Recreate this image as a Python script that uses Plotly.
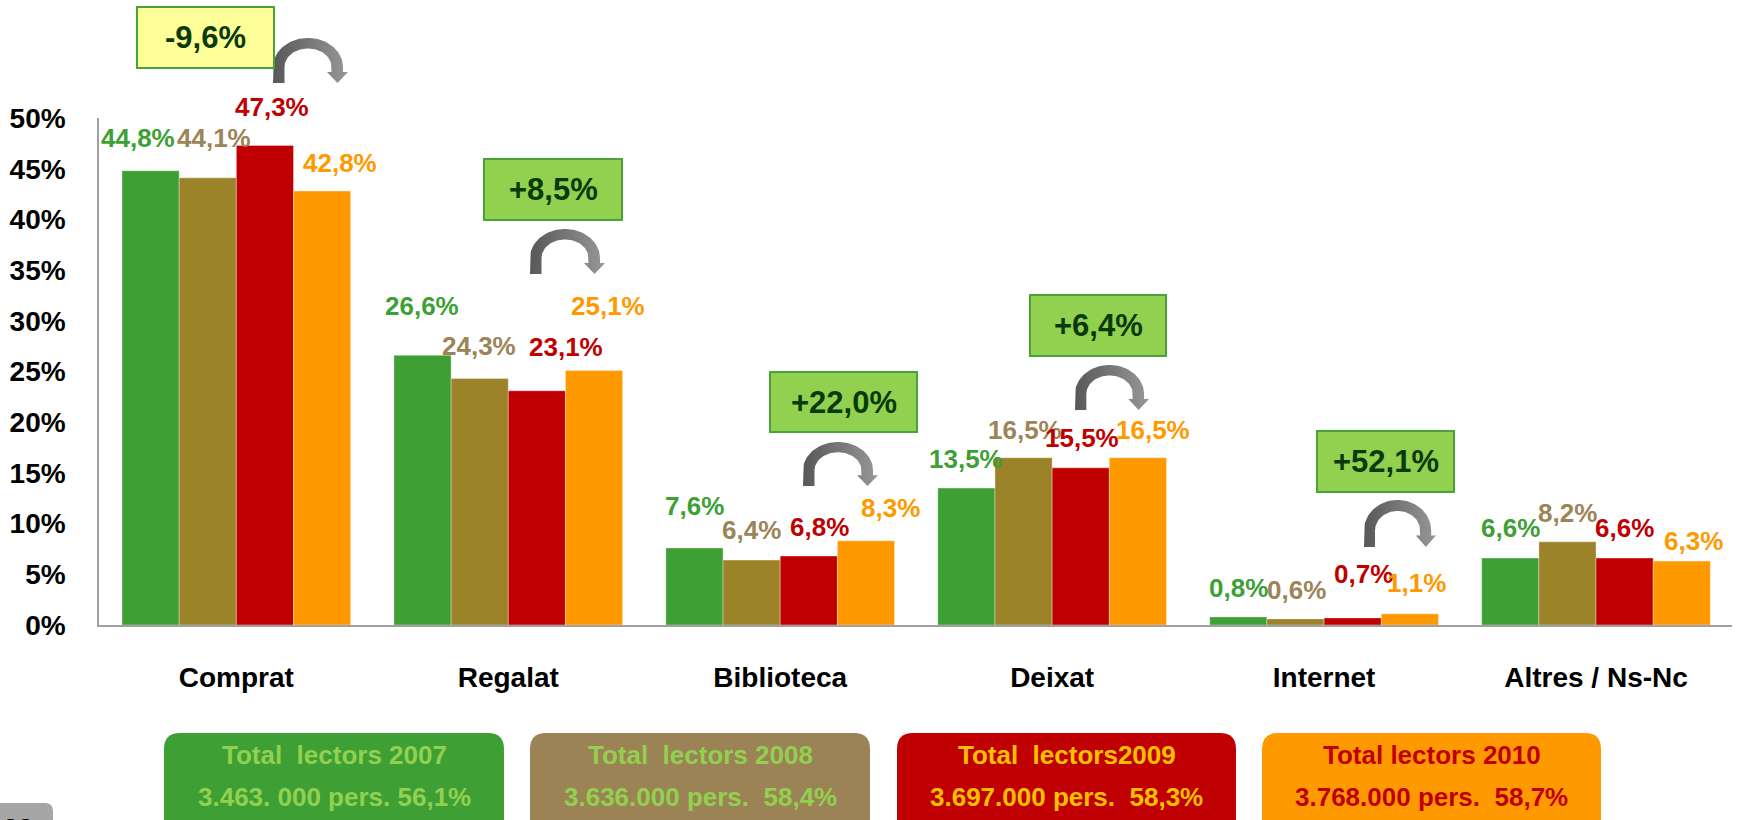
import plotly.graph_objects as go
import numpy as np

W, H = 1740, 820

# ---------------- data ----------------
categories = ["Comprat", "Regalat", "Biblioteca", "Deixat", "Internet", "Altres / Ns-Nc"]
years = ["2007", "2008", "2009", "2010"]
v2007 = [44.8, 26.6, 7.6, 13.5, 0.8, 6.6]
v2008 = [44.1, 24.3, 6.4, 16.5, 0.6, 8.2]
v2009 = [47.3, 23.1, 6.8, 15.5, 0.7, 6.6]
v2010 = [42.8, 25.1, 8.3, 16.5, 1.1, 6.3]
change_labels = ["-9,6%", "+8,5%", "+22,0%", "+6,4%", "+52,1%"]
ytick_vals = [0, 5, 10, 15, 20, 25, 30, 35, 40, 45, 50]
ytick_text = ["0%", "5%", "10%", "15%", "20%", "25%", "30%", "35%", "40%", "45%", "50%"]
legend_line1 = ["Total\u00a0\u00a0lectors 2007", "Total\u00a0\u00a0lectors 2008",
                "Total\u00a0\u00a0lectors2009", "Total lectors 2010"]
legend_line2 = ["3.463. 000 pers. 56,1%", "3.636.000 pers.\u00a0\u00a058,4%",
                "3.697.000 pers.\u00a0\u00a058,3%", "3.768.000 pers.\u00a0\u00a058,7%"]
slide_number = "22"

# ---------------- styles / positions ----------------
FONT = "Liberation Sans Narrow, Arial Narrow, Liberation Sans, Arial, sans-serif"
bar_colors = ["#3E9F35", "#9C8229", "#C00000", "#FF9900"]
label_colors = ["#3E9F35", "#9C8456", "#C00000", "#FF9900"]
legend_fill = ["#3E9F35", "#9C8356", "#C00000", "#FF9900"]
legend_text = ["#92D050", "#92D050", "#FFC000", "#C00000"]

# label offsets (px) relative to top-centre of each bar
lab_dx = [[-12.5, -0.6, -0.3, 0, 0, 0],
          [6, -0.2, -0.3, 1.2, 1, 0],
          [7, 29, 10.3, 1.5, 10.4, 0],
          [18, 13.5, 24, 14.6, 7, 12]]
lab_dy = [[32.6, 49.5, 42.1, 28.8, 28.9, 30.5],
          [39.7, 32.6, 30, 27.5, 28.9, 28.5],
          [38.2, 43.8, 29.3, 29.4, 44, 29.7],
          [28.1, 64.7, 32.8, 27.5, 31, 20.5]]

PX0, PX1 = 99, 1732        # plot area x (px)
PY_TOP, PY_BOT = 118, 625  # plot area y (px)
BARGAP = 0.159

change_boxes = [(137, 7, 274, 68), (484, 159, 622, 220), (770, 372, 917, 432),
                (1030, 295, 1166, 356), (1317, 431, 1454, 492)]
change_fill = ["#FFFF99", "#92D050", "#92D050", "#92D050", "#92D050"]
arrow_boxes = [(273, 38, 347, 83), (530, 229, 604, 274), (803, 442, 877, 486),
               (1075, 365, 1148, 410), (1364, 500, 1435, 547)]
legend_boxes = [(164, 504), (530, 870), (897, 1236), (1262, 1601)]


def P(x, y):
    return x / W, 1 - y / H


def rounded_path(x0, y0, x1, y1, r):
    pts = []
    def m(cmd, x, y):
        px, py = P(x, y)
        pts.append(f"{cmd} {px:.5f},{py:.5f}")
    def q(cx, cy, ex, ey):
        a, b = P(cx, cy); c, d = P(ex, ey)
        pts.append(f"Q {a:.5f},{b:.5f} {c:.5f},{d:.5f}")
    m("M", x0 + r, y0)
    m("L", x1 - r, y0)
    q(x1, y0, x1, y0 + r)
    m("L", x1, y1 - r)
    q(x1, y1, x1 - r, y1)
    m("L", x0 + r, y1)
    q(x0, y1, x0, y1 - r)
    m("L", x0, y0 + r)
    q(x0, y0, x0 + r, y0)
    pts.append("Z")
    return " ".join(pts)


def arrow_polygon(x0, y0, x1, y1):
    # normalised curved arrow in a 74 x 45 box
    sx, sy = (x1 - x0) / 74.0, (y1 - y0) / 45.0
    cx, cy = 35.0, 29.0
    rxo, ryo, rxi, ryi = 35.0, 29.0, 23.5, 18.5
    pts = [(0, 45), (0, cy)]
    for t in np.linspace(np.pi, 0, 48):
        pts.append((cx + rxo * np.cos(t), cy - ryo * np.sin(t)))
    pts += [(70, 34), (75, 34), (64.5, 45), (54, 34), (58.5, 34), (58.5, cy)]
    for t in np.linspace(0, np.pi, 48):
        pts.append((cx + rxi * np.cos(t), cy - ryi * np.sin(t)))
    pts += [(11.5, 45), (0, 45)]
    xs = [x0 + p[0] * sx for p in pts]
    ys = [y0 + p[1] * sy for p in pts]
    return xs, ys


fig = go.Figure()
series = [v2007, v2008, v2009, v2010]
for i, (yr, vals) in enumerate(zip(years, series)):
    fig.add_trace(go.Bar(
        x=categories, y=vals, name=yr,
        marker=dict(color=bar_colors[i], line=dict(color="rgba(255,255,255,0.35)", width=1)),
        showlegend=False, hoverinfo="skip",
    ))

# data labels
cat_w = (PX1 - PX0) / len(categories)
bar_w = cat_w * (1 - BARGAP) / len(series)
annotations = []
for i, vals in enumerate(series):
    off = (i - (len(series) - 1) / 2) * bar_w
    for j, v in enumerate(vals):
        annotations.append(dict(
            x=categories[j], y=v, xref="x", yref="y",
            text=f"{v:.1f}".replace(".", ",") + "%",
            showarrow=False, xanchor="center", yanchor="middle",
            xshift=off + lab_dx[i][j], yshift=lab_dy[i][j],
            font=dict(family=FONT, size=26, color=label_colors[i], weight="bold"),
        ))

shapes = []
# change boxes
for k, (bx0, by0, bx1, by1) in enumerate(change_boxes):
    a0, b0 = P(bx0, by1)
    a1, b1 = P(bx1, by0)
    shapes.append(dict(type="rect", xref="paper", yref="paper", x0=a0, y0=b0, x1=a1, y1=b1,
                       fillcolor=change_fill[k], line=dict(color="#4AA23A", width=2), layer="above"))
    cxp, cyp = P((bx0 + bx1) / 2, (by0 + by1) / 2)
    annotations.append(dict(x=cxp, y=cyp, xref="paper", yref="paper", text=change_labels[k],
                            showarrow=False, xanchor="center", yanchor="middle",
                            font=dict(family=FONT, size=31, color="#0A3A0A", weight="bold")))

# legend boxes
for k, (lx0, lx1) in enumerate(legend_boxes):
    shapes.append(dict(type="path", xref="paper", yref="paper",
                       path=rounded_path(lx0, 733, lx1, 860, 16),
                       fillcolor=legend_fill[k], line=dict(width=0), layer="above"))
    xc, y1c = P((lx0 + lx1) / 2, 755)
    _, y2c = P(0, 797)
    annotations.append(dict(x=xc, y=y1c, xref="paper", yref="paper", text=legend_line1[k],
                            showarrow=False, xanchor="center", yanchor="middle",
                            font=dict(family=FONT, size=26, color=legend_text[k], weight="bold")))
    annotations.append(dict(x=xc, y=y2c, xref="paper", yref="paper", text=legend_line2[k],
                            showarrow=False, xanchor="center", yanchor="middle",
                            font=dict(family=FONT, size=26, color=legend_text[k], weight="bold")))

# slide number tab (bottom-left, mostly cut off)
shapes.append(dict(type="path", xref="paper", yref="paper",
                   path=rounded_path(-20, 803, 53, 860, 8),
                   fillcolor="#A6A6A6", line=dict(width=0), layer="above"))
sx, sy = P(18, 812)
annotations.append(dict(x=sx, y=sy, xref="paper", yref="paper", text=slide_number,
                        showarrow=False, xanchor="center", yanchor="top",
                        font=dict(family=FONT, size=27, color="black", weight="bold")))

# curved arrows (on a full-figure pixel overlay axis)
for (ax0, ay0, ax1, ay1) in arrow_boxes:
    xs, ys = arrow_polygon(ax0, ay0, ax1, ay1)
    fig.add_trace(go.Scatter(
        x=xs, y=ys, xaxis="x2", yaxis="y2", mode="lines", fill="toself",
        line=dict(width=0, color="rgba(0,0,0,0)"),
        fillgradient=dict(type="horizontal", colorscale=[[0, "#585858"], [1, "#979797"]]),
        showlegend=False, hoverinfo="skip",
    ))

fig.update_layout(
    width=W, height=H,
    margin=dict(l=0, r=0, t=0, b=0, autoexpand=False),
    paper_bgcolor="white", plot_bgcolor="rgba(0,0,0,0)",
    barmode="group", bargap=BARGAP, bargroupgap=0,
    showlegend=False,
    xaxis=dict(domain=[PX0 / W, PX1 / W], type="category", showgrid=False, zeroline=False,
               showline=True, linecolor="#A0A0A0", linewidth=1.5, ticks="",
               tickfont=dict(family=FONT, size=28, color="black", weight="bold"),
               ticklabelstandoff=27, fixedrange=True, anchor="y"),
    yaxis=dict(domain=[1 - PY_BOT / H, 1 - PY_TOP / H], range=[0, 50], showgrid=False,
               zeroline=False, showline=True, linecolor="#A0A0A0", linewidth=1.5, ticks="",
               tickvals=ytick_vals, ticktext=ytick_text,
               tickfont=dict(family=FONT, size=28, color="black", weight="bold"),
               ticklabelstandoff=26, fixedrange=True, anchor="x"),
    xaxis2=dict(domain=[0, 1], range=[0, W], visible=False, fixedrange=True, anchor="y2"),
    yaxis2=dict(domain=[0, 1], range=[H, 0], visible=False, fixedrange=True, anchor="x2"),
    shapes=shapes,
    annotations=annotations,
)

fig.write_html("out.html", config={"displayModeBar": False},
               post_script="document.body.style.margin='0';document.body.style.overflow='hidden';")
